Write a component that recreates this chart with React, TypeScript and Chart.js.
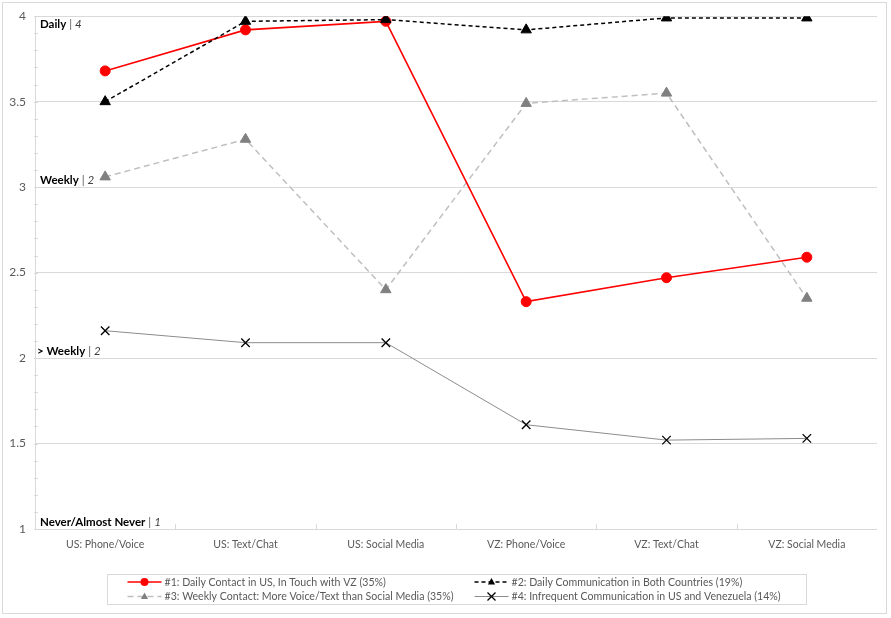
import React, { useEffect, useRef } from "react";
import { Chart, registerables } from "chart.js";

Chart.register(...registerables);

const categories = [
  "US: Phone/Voice",
  "US: Text/Chat",
  "US: Social Media",
  "VZ: Phone/Voice",
  "VZ: Text/Chat",
  "VZ: Social Media",
];

const seriesNames = [
  "#1: Daily Contact in US, In Touch with VZ (35%)",
  "#2: Daily Communication in Both Countries (19%)",
  "#3: Weekly Contact: More Voice/Text than Social Media (35%)",
  "#4: Infrequent Communication in US and Venezuela (14%)",
];

const series1 = [3.68, 3.92, 3.97, 2.33, 2.47, 2.59];
const series2 = [3.5, 3.97, 3.98, 3.92, 3.99, 3.99];
const series3 = [3.06, 3.28, 2.4, 3.49, 3.55, 2.35];
const series4 = [2.16, 2.09, 2.09, 1.61, 1.52, 1.53];

const yMin = 1;
const yMax = 4;
const yStep = 0.5;
const yMinorStep = 0.1;

const levelValues = [4, 3, 2, 1];
const levelNames = ["Daily", "Weekly", "> Weekly", "Never/Almost Never"];
const levelCodes = ["4", "2", "2", "1"];

const FONT = "Lato, 'Open Sans', 'Liberation Sans', sans-serif";
const TEXT_GREY = "#595959";
const GRID = "#d9d9d9";

function drawMarker(ctx: CanvasRenderingContext2D, style: string, x: number, y: number, r: number, fill: string, stroke: string, lw: number) {
  ctx.save();
  ctx.setLineDash([]);
  ctx.fillStyle = fill;
  ctx.strokeStyle = stroke;
  ctx.lineWidth = lw;
  ctx.beginPath();
  if (style === "circle") {
    ctx.arc(x, y, r, 0, Math.PI * 2);
    ctx.fill();
  } else if (style === "triangle") {
    ctx.moveTo(x, y - r);
    ctx.lineTo(x + r * 0.9, y + r * 0.6);
    ctx.lineTo(x - r * 0.9, y + r * 0.6);
    ctx.closePath();
    ctx.fill();
  } else if (style === "crossRot") {
    ctx.moveTo(x - r, y - r);
    ctx.lineTo(x + r, y + r);
    ctx.moveTo(x + r, y - r);
    ctx.lineTo(x - r, y + r);
    ctx.stroke();
  }
  ctx.restore();
}

const overlayPlugin = {
  id: "overlay",
  beforeDatasetsDraw(chart: any) {
    const ctx = chart.ctx as CanvasRenderingContext2D;
    const area = chart.chartArea;
    const y = chart.scales.y;
    const x = chart.scales.x;
    ctx.save();
    ctx.strokeStyle = GRID;
    ctx.lineWidth = 1;
    const n = Math.round((yMax - yMin) / yMinorStep);
    for (let i = 0; i <= n; i++) {
      const v = yMin + i * yMinorStep;
      const py = Math.round(y.getPixelForValue(v)) + 0.5;
      ctx.beginPath();
      ctx.moveTo(area.left - 1, py);
      ctx.lineTo(area.left + 3, py);
      ctx.stroke();
    }
    const step = (area.right - area.left) / categories.length;
    for (let i = 1; i < categories.length; i++) {
      const px = Math.round(x.getPixelForValue(i) - step / 2) + 0.5;
      ctx.beginPath();
      ctx.moveTo(px, area.bottom - 5);
      ctx.lineTo(px, area.bottom);
      ctx.stroke();
    }
    ctx.restore();
  },
  afterDraw(chart: any) {
    const ctx = chart.ctx as CanvasRenderingContext2D;
    const area = chart.chartArea;
    const y = chart.scales.y;
    ctx.save();
    ctx.textBaseline = "middle";
    ctx.textAlign = "left";
    levelValues.forEach((v, i) => {
      const py = y.getPixelForValue(v) + (v === yMax ? 8 : -7);
      let px = area.left + (v === 2 ? 2 : 5);
      ctx.font = `bold 11.5px ${FONT}`;
      ctx.fillStyle = "#000000";
      ctx.fillText(levelNames[i], px, py);
      px += ctx.measureText(levelNames[i]).width;
      ctx.font = `11.5px ${FONT}`;
      ctx.fillStyle = "#595959";
      ctx.fillText(" | ", px, py);
      px += ctx.measureText(" | ").width;
      ctx.font = `italic 11.5px ${FONT}`;
      ctx.fillStyle = "#404040";
      ctx.fillText(levelCodes[i], px, py);
    });

    const boxW = 699;
    const boxH = 30;
    const cx = (area.left + area.right) / 2;
    const boxL = Math.round(cx - boxW / 2) + 0.5;
    const boxT = Math.round(area.bottom + 45) + 0.5;
    ctx.strokeStyle = GRID;
    ctx.lineWidth = 1;
    ctx.setLineDash([]);
    ctx.strokeRect(boxL, boxT, boxW, boxH);

    const colX = [boxL + 20, boxL + 367];
    const rowY = [boxT + 7.5, boxT + 22];
    const sampleLen = 34;
    chart.data.datasets.forEach((ds: any, i: number) => {
      const col = i % 2;
      const row = Math.floor(i / 2);
      const sx = colX[col];
      const sy = rowY[row];
      ctx.save();
      ctx.strokeStyle = ds.borderColor;
      ctx.lineWidth = ds.borderWidth;
      ctx.setLineDash(ds.borderDash || []);
      ctx.beginPath();
      ctx.moveTo(sx, sy);
      ctx.lineTo(sx + sampleLen, sy);
      ctx.stroke();
      ctx.restore();
      drawMarker(
        ctx,
        ds.pointStyle,
        sx + sampleLen / 2,
        sy,
        4,
        ds.pointBackgroundColor,
        ds.pointBorderColor,
        ds.pointBorderWidth
      );
      ctx.font = `10.6px ${FONT}`;
      ctx.fillStyle = TEXT_GREY;
      ctx.textAlign = "left";
      ctx.textBaseline = "middle";
      ctx.fillText(seriesNames[i], sx + sampleLen + 3, sy + 0.5);
    });
    ctx.restore();
  },
};

export default function App() {
  const canvasRef = useRef<HTMLCanvasElement | null>(null);

  useEffect(() => {
    const canvas = canvasRef.current;
    if (!canvas) return;
    const chart = new Chart(canvas, {
      type: "line",
      data: {
        labels: categories,
        datasets: [
          {
            label: seriesNames[0],
            data: series1,
            borderColor: "#ff0000",
            borderWidth: 1.6,
            borderDash: [],
            pointStyle: "circle",
            pointRadius: 5,
            pointBackgroundColor: "#ff0000",
            pointBorderColor: "#ff0000",
            pointBorderWidth: 1,
            tension: 0,
            order: 2,
          },
          {
            label: seriesNames[1],
            data: series2,
            borderColor: "#000000",
            borderWidth: 1.5,
            borderDash: [4, 3],
            pointStyle: "triangle",
            pointRadius: 6,
            pointBackgroundColor: "#000000",
            pointBorderColor: "#000000",
            pointBorderWidth: 1,
            tension: 0,
            order: 1,
          },
          {
            label: seriesNames[2],
            data: series3,
            borderColor: "#bfbfbf",
            borderWidth: 1.5,
            borderDash: [6, 4],
            pointStyle: "triangle",
            pointRadius: 6,
            pointBackgroundColor: "#808080",
            pointBorderColor: "#808080",
            pointBorderWidth: 1,
            tension: 0,
            order: 3,
          },
          {
            label: seriesNames[3],
            data: series4,
            borderColor: "#8c8c8c",
            borderWidth: 1,
            borderDash: [],
            pointStyle: "crossRot",
            pointRadius: 6,
            pointBackgroundColor: "#000000",
            pointBorderColor: "#000000",
            pointBorderWidth: 1.3,
            tension: 0,
            order: 4,
          },
        ],
      },
      options: {
        animation: false,
        responsive: true,
        maintainAspectRatio: false,
        layout: { padding: { top: 16, right: 14, left: 0, bottom: 0 } },
        plugins: {
          legend: { display: false },
          tooltip: { enabled: false },
          title: { display: false },
        },
        scales: {
          x: {
            type: "category",
            offset: true,
            grid: { display: false, drawTicks: false },
            border: { display: false },
            ticks: {
              color: TEXT_GREY,
              font: { family: FONT, size: 10.5 },
              padding: 9,
              maxRotation: 0,
              autoSkip: false,
            },
            afterFit: (scale: any) => {
              scale.height = 89;
            },
          },
          y: {
            type: "linear",
            min: yMin,
            max: yMax,
            ticks: {
              stepSize: yStep,
              color: TEXT_GREY,
              font: { family: FONT, size: 12 },
              padding: 9,
              callback: (v: any) => String(v),
            },
            grid: { color: GRID, lineWidth: 1, drawTicks: false },
            border: { display: true, color: GRID, width: 1 },
            afterFit: (scale: any) => {
              scale.width = 35;
            },
          },
        },
      },
      plugins: [overlayPlugin],
    });
    return () => chart.destroy();
  }, []);

  return (
    <div style={{ position: "absolute", left: 0, top: 0, width: 891, height: 618, background: "#ffffff" }}>
      <div
        style={{
          position: "absolute",
          left: 2,
          top: 2,
          width: 885,
          height: 612,
          border: "1px solid #d9d9d9",
          boxSizing: "border-box",
        }}
      />
      <div style={{ position: "absolute", left: 0, top: 0, width: 891, height: 618 }}>
        <canvas ref={canvasRef} />
      </div>
    </div>
  );
}
